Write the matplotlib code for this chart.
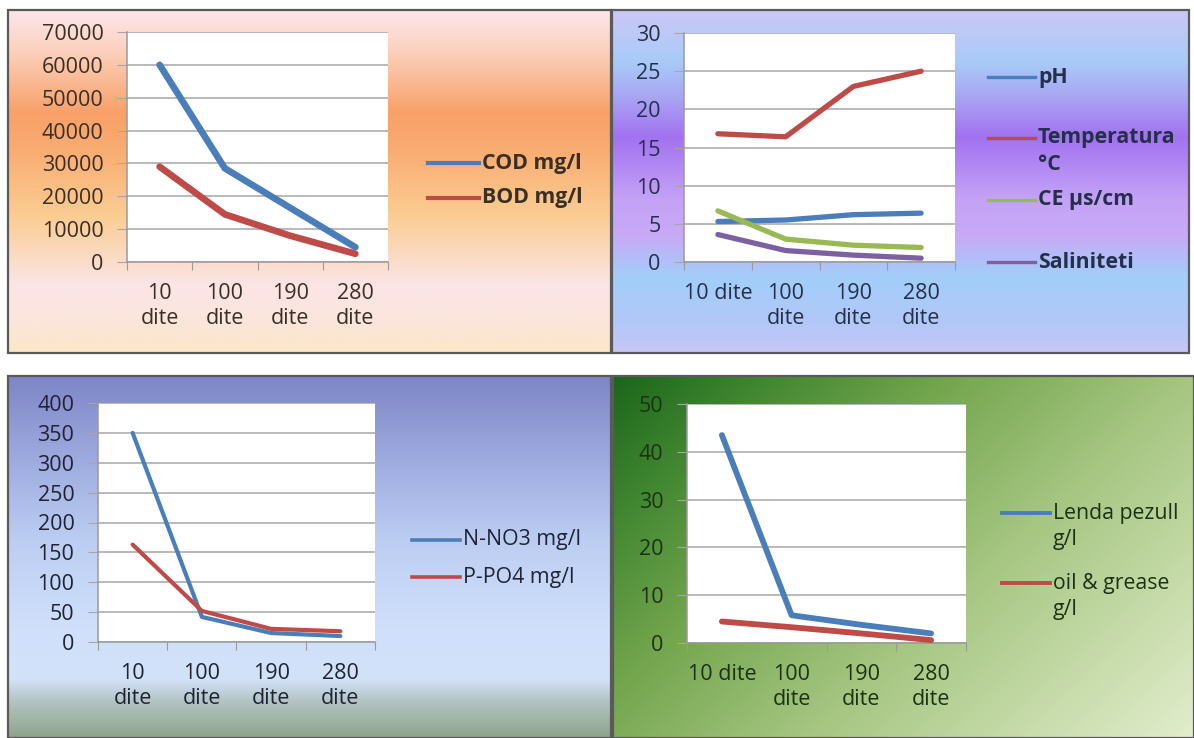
import numpy as np
import matplotlib
matplotlib.use('Agg')
import matplotlib.pyplot as plt
from matplotlib.colors import LinearSegmentedColormap
from matplotlib.patches import Rectangle
from matplotlib.lines import Line2D

W, H = 1194, 738
plt.rcParams['font.family'] = ['Open Sans', 'DejaVu Sans']

# ---- data -------------------------------------------------------------
days_2line = ['10\ndite', '100\ndite', '190\ndite', '280\ndite']
days_1line = ['10 dite', '100\ndite', '190\ndite', '280\ndite']

cod = [60000, 28500, 16500, 4500]
bod = [29000, 14500, 8000, 2500]

ph = [5.3, 5.5, 6.2, 6.4]
temperatura = [16.8, 16.4, 23.0, 25.0]
ce = [6.7, 3.0, 2.2, 1.9]
saliniteti = [3.6, 1.5, 0.9, 0.5]

n_no3 = [350, 42, 15, 10]
p_po4 = [163, 52, 22, 18]

lenda_pezull = [43.5, 5.8, 3.8, 2.0]
oil_grease = [4.5, 3.3, 2.0, 0.6]

BLUE = '#4a7ebb'
RED = '#be4b48'
GREEN = '#98b954'
PURPLE = '#7d60a0'

TICK_FS = 15.5
LEG_FS = 15.3


def frect(x0, y0, x1, y1):
    return [x0 / W, 1 - y1 / H, (x1 - x0) / W, (y1 - y0) / H]


def background(fig, rect, stops, diagonal=False):
    bg = fig.add_axes(frect(*rect), zorder=0)
    cmap = LinearSegmentedColormap.from_list('g', stops)
    if diagonal:
        xx, yy = np.meshgrid(np.linspace(0, 1, 300), np.linspace(0, 1, 300))
        grad = 0.6 * xx + 0.4 * yy
    else:
        grad = np.linspace(0, 1, 400)[:, None] * np.ones((1, 10))
    bg.imshow(grad, cmap=cmap, extent=[0, 1, 0, 1], aspect='auto',
              origin='upper', vmin=0, vmax=1)
    bg.set_xlim(0, 1)
    bg.set_ylim(0, 1)
    bg.set_axis_off()
    bg.add_patch(Rectangle((0, 0), 1, 1, transform=bg.transAxes, fill=False,
                           edgecolor='#5a5a5a', lw=1.6, clip_on=False))
    return bg


def chart(fig, rect, series, ymax, ystep, xlabels, tcolor, lw):
    ax = fig.add_axes(frect(*rect), zorder=2)
    ax.set_facecolor('white')
    x = np.arange(4)
    for vals, color in series:
        ax.plot(x, vals, color=color, lw=lw, solid_capstyle='round',
                solid_joinstyle='round', zorder=3)
    ax.set_xlim(-0.5, 3.5)
    ax.set_ylim(0, ymax)
    ax.set_yticks(np.arange(0, ymax + ystep / 2, ystep))
    ax.yaxis.grid(True, color='#a6a6a6', lw=1.1)
    ax.set_axisbelow(True)
    for s in ['top', 'right']:
        ax.spines[s].set_visible(False)
    for s in ['left', 'bottom']:
        ax.spines[s].set_color('#9a9a9a')
        ax.spines[s].set_linewidth(1.1)
    ax.set_xticks(np.arange(-0.5, 4, 1))
    ax.set_xticklabels([])
    ax.set_xticks(x, minor=True)
    ax.set_xticklabels(xlabels, minor=True, fontsize=TICK_FS, color=tcolor,
                       va='top', linespacing=1.25)
    ax.tick_params(axis='x', which='major', length=6, color='#9a9a9a',
                   direction='out')
    ax.tick_params(axis='x', which='minor', length=0, pad=15)
    ax.tick_params(axis='y', length=7, color='#a6a6a6', pad=10,
                   labelsize=TICK_FS, labelcolor=tcolor)
    return ax


def legend(fig, x0, x1, items, tcolor, weight, lw, dy=27):
    for y, label, color in items:
        fig.add_artist(Line2D([x0 / W, x1 / W], [1 - y / H, 1 - y / H],
                              color=color, lw=lw))
        for i, line in enumerate(label.split('\n')):
            fig.text((x1 + 3) / W, 1 - (y + i * dy) / H, line,
                     fontsize=LEG_FS, fontweight=weight, color=tcolor,
                     va='center', ha='left')


fig = plt.figure(figsize=(W / 100, H / 100), dpi=100)
fig.patch.set_facecolor('white')

# ---- panel 1 ----------------------------------------------------------
background(fig, (8, 10, 611, 353),
           [(0.0, '#fde6ea'), (0.12, '#fcd0bc'), (0.3, '#f8a068'),
            (0.42, '#f9ae74'), (0.6, '#fbcd92'), (0.8, '#fbe4e6'),
            (0.9, '#fbe6dc'), (1.0, '#fbe6c8')])
c1 = '#3a2f24'
chart(fig, (127, 32, 388, 262), [(cod, BLUE), (bod, RED)], 70000, 10000,
      days_2line, c1, 4.8)
legend(fig, 428, 479, [(163, 'COD mg/l', BLUE), (198, 'BOD mg/l', RED)],
       c1, 'bold', 3.0)

# ---- panel 2 ----------------------------------------------------------
background(fig, (612, 10, 1189, 353),
           [(0.0, '#cbc8f6'), (0.15, '#a8cbf8'), (0.25, '#a9a6f4'),
            (0.37, '#a272f0'), (0.55, '#c4a2f6'), (0.66, '#c8aaf6'),
            (0.78, '#a2cefa'), (0.9, '#b0c8f8'), (1.0, '#c6c6f6')])
c2 = '#24304a'
chart(fig, (684, 33, 955, 262),
      [(ph, BLUE), (temperatura, RED), (ce, GREEN), (saliniteti, PURPLE)],
      30, 5, days_1line, c2, 3.8)
legend(fig, 988, 1035,
       [(77, 'pH', BLUE), (138, 'Temperatura\n°C', RED),
        (200, 'CE µs/cm', GREEN), (262, 'Saliniteti', PURPLE)],
       c2, 'bold', 2.4, dy=26)

# ---- panel 3 ----------------------------------------------------------
background(fig, (8, 376, 611, 738),
           [(0.0, '#7e86c6'), (0.2, '#9aa6dc'), (0.45, '#bccdf2'),
            (0.7, '#d0e0fb'), (0.84, '#d2e2f8'), (0.9, '#b4c4c4'),
            (1.0, '#8ea58a')])
c3 = '#1e2436'
chart(fig, (98, 403, 375, 642), [(n_no3, BLUE), (p_po4, RED)], 400, 50,
      days_2line, c3, 3.0)
legend(fig, 412, 460, [(540, 'N-NO3 mg/l', BLUE), (577, 'P-PO4 mg/l', RED)],
       c3, 'normal', 2.6)

# ---- panel 4 ----------------------------------------------------------
background(fig, (613, 376, 1194, 738),
           [(0.0, '#1b661b'), (0.15, '#3f8530'), (0.35, '#74a64e'),
            (0.6, '#a6c682'), (1.0, '#e2edcc')], diagonal=True)
c4 = '#1c3312'
chart(fig, (687, 404, 966, 643), [(lenda_pezull, BLUE), (oil_grease, RED)],
      50, 10, days_1line, c4, 4.2)
legend(fig, 1002, 1050,
       [(513, 'Lenda pezull\ng/l', BLUE), (583, 'oil & grease\ng/l', RED)],
       c4, 'normal', 2.8, dy=27)

fig.savefig('out.png', dpi=100, facecolor=fig.get_facecolor())
